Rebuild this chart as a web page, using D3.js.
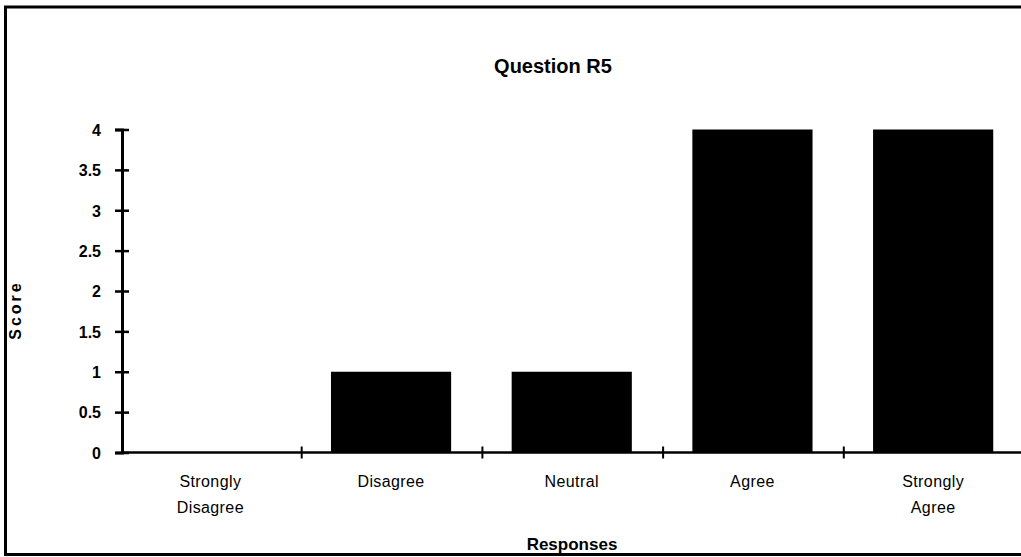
<!DOCTYPE html>
<html>
<head>
<meta charset="utf-8">
<script src="https://cdn.jsdelivr.net/npm/d3@7"></script>
<style>
  html, body { margin: 0; padding: 0; background: #fff; }
  svg { display: block; }
  text { font-family: "Liberation Sans", Arial, Helvetica, sans-serif; fill: #000; }
</style>
</head>
<body>
<svg id="chart" width="1021" height="557"></svg>
<script>
// Response categories (label lines) and their scores
const categories = ["Strongly Disagree", "Disagree", "Neutral", "Agree", "Strongly Agree"];
const categoryLines = [["Strongly", "Disagree"], ["Disagree"], ["Neutral"], ["Agree"], ["Strongly", "Agree"]];
const scores = [0, 1, 1, 4, 4];
const yTicks = [0, 0.5, 1, 1.5, 2, 2.5, 3, 3.5, 4];
const yTickLabels = ["0", "0.5", "1", "1.5", "2", "2.5", "3", "3.5", "4"];

const svg = d3.select("#chart");

// outer frame
svg.append("rect")
  .attr("x", 5.5).attr("y", 7)
  .attr("width", 1040).attr("height", 547.5)
  .attr("fill", "none").attr("stroke", "#000").attr("stroke-width", 3);

const x0 = 122, x1 = 1025.5, yBase = 452.5, yTop = 129.5;

const x = d3.scaleBand()
  .domain(categories)
  .range([x0, x1])
  .paddingInner(0.335)
  .paddingOuter(0.1675);

const y = d3.scaleLinear().domain([0, 4]).range([yBase, yTop]);

// bars
svg.append("g").selectAll("rect")
  .data(categories)
  .join("rect")
  .attr("x", d => x(d) - 2)
  .attr("y", (d, i) => y(scores[i]))
  .attr("width", x.bandwidth())
  .attr("height", (d, i) => y(0) - y(scores[i]))
  .attr("fill", "#000");

// y axis
const yAxis = d3.axisLeft(y)
  .tickValues(yTicks)
  .tickFormat((d, i) => yTickLabels[i])
  .tickSize(7)
  .tickPadding(14);

const gy = svg.append("g")
  .attr("transform", `translate(${x0},0)`)
  .call(yAxis);
gy.select(".domain").attr("stroke-width", 3).attr("stroke", "#000");
gy.selectAll(".tick line").attr("x1", -7).attr("x2", 7).attr("stroke-width", 2.5).attr("stroke", "#000");
gy.selectAll(".tick text")
  .attr("font-size", 16).attr("font-weight", "bold")
  .attr("font-family", "'Liberation Sans', Arial, sans-serif")
  .attr("dy", "0.36em").attr("fill", "#000");

// x axis baseline
svg.append("line")
  .attr("x1", x0).attr("x2", x1)
  .attr("y1", yBase).attr("y2", yBase)
  .attr("stroke", "#000").attr("stroke-width", 2.5);

// category boundary ticks
const step = x.step();
svg.append("g").selectAll("line")
  .data(categories.slice(1))
  .join("line")
  .attr("x1", d => x(d) - x.paddingInner() * step / 2 - 1)
  .attr("x2", d => x(d) - x.paddingInner() * step / 2 - 1)
  .attr("y1", yBase - 6).attr("y2", yBase + 6)
  .attr("stroke", "#000").attr("stroke-width", 2);

// category labels
const labels = svg.append("g").selectAll("text")
  .data(categories)
  .join("text")
  .attr("text-anchor", "middle")
  .attr("font-size", 16)
  .attr("letter-spacing", 0.4)
  .attr("y", 487);
labels.each(function(d, i) {
  const cx = x(d) + x.bandwidth() / 2 - 2;
  d3.select(this).selectAll("tspan")
    .data(categoryLines[i])
    .join("tspan")
    .attr("x", cx)
    .attr("dy", (t, j) => j === 0 ? 0 : 26)
    .text(t => t);
});

// title
svg.append("text")
  .attr("x", 553).attr("y", 73)
  .attr("text-anchor", "middle")
  .attr("font-size", 20).attr("font-weight", "bold")
  .text("Question R5");

// axis titles
svg.append("text")
  .attr("x", 572).attr("y", 550)
  .attr("text-anchor", "middle")
  .attr("font-size", 17).attr("font-weight", "bold")
  .text("Responses");

svg.append("text")
  .attr("transform", "translate(21,310) rotate(-90)")
  .attr("text-anchor", "middle")
  .attr("font-size", 16).attr("font-weight", "bold")
  .attr("letter-spacing", 3)
  .text("Score");
</script>
</body>
</html>
